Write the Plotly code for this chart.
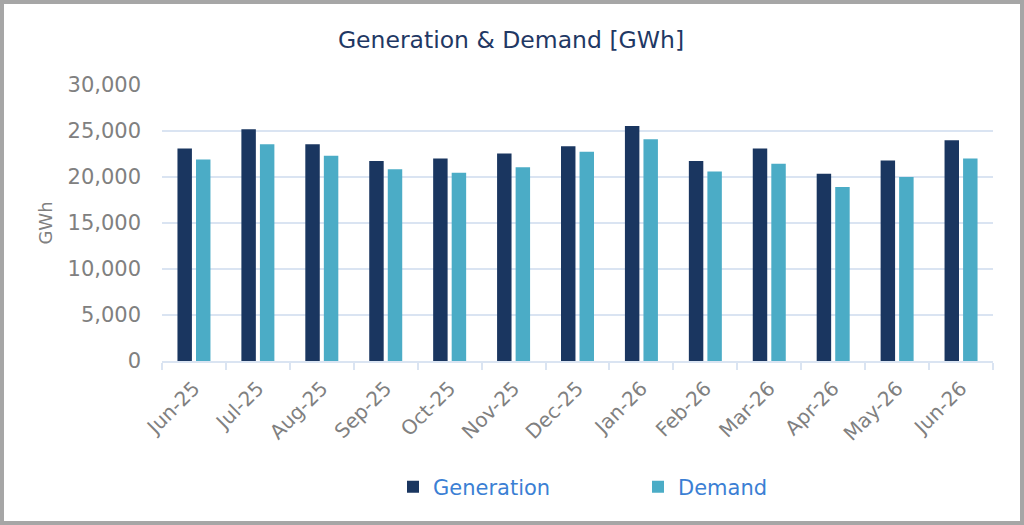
import plotly.graph_objects as go

months = ["Jun-25", "Jul-25", "Aug-25", "Sep-25", "Oct-25", "Nov-25", "Dec-25",
          "Jan-26", "Feb-26", "Mar-26", "Apr-26", "May-26", "Jun-26"]
generation = [23100, 25200, 23550, 21750, 22000, 22550, 23350,
              25550, 21750, 23100, 20350, 21800, 24000]
demand = [21900, 23550, 22300, 20850, 20450, 21050, 22750,
          24100, 20600, 21450, 18900, 20000, 22000]
y_ticks = [0, 5000, 10000, 15000, 20000, 25000, 30000]

FONT = "DejaVu Sans"
TICK_COLOR = "#808080"
GRID = "#dae4f2"

L, R, T, B = 162, 31, 85, 164
W, H = 1024, 525
pw, ph = W - L - R, H - T - B

def px_x(px):
    return (px - L) / pw

def px_y(py):
    return (H - B - py) / ph

fig = go.Figure()
fig.add_trace(go.Bar(x=months, y=generation, name="Generation",
                     marker=dict(color="#1a3660", line=dict(width=0))))
fig.add_trace(go.Bar(x=months, y=demand, name="Demand",
                     marker=dict(color="#4bacc6", line=dict(width=0))))

fig.update_layout(
    width=W, height=H,
    margin=dict(l=L, r=R, t=T, b=B, pad=0),
    paper_bgcolor="white", plot_bgcolor="white",
    barmode="group", bargap=0.42, bargroupgap=0.22,
    title=dict(text="Generation & Demand [GWh]", x=511 / W, xref="container",
               xanchor="center", y=1 - 40 / H, yanchor="middle",
               font=dict(family=FONT, size=23.5, color="#1f3864")),
    showlegend=True,
    legend=dict(orientation="h", x=px_x(393), xanchor="left",
                y=px_y(487), yanchor="middle",
                font=dict(family=FONT, size=21, color="#3b7fd4"),
                entrywidth=200, entrywidthmode="pixels",
                bgcolor="rgba(0,0,0,0)"),
    xaxis=dict(tickangle=-45, tickfont=dict(family=FONT, size=20, color=TICK_COLOR),
               showline=True, linecolor=GRID, linewidth=1.5,
               ticks="outside", tickson="boundaries", ticklen=7,
               tickcolor=GRID, tickwidth=1.5, showgrid=False,
               ticklabelstandoff=6),
    yaxis=dict(range=[0, 30000], tickvals=y_ticks, tickformat=",d",
               tickfont=dict(family=FONT, size=21, color=TICK_COLOR),
               showgrid=True, gridcolor=GRID, gridwidth=1.5,
               zeroline=False, showline=False, ticklabelstandoff=20,
               title=dict(text="GWh", standoff=10,
                          font=dict(family=FONT, size=18, color=TICK_COLOR))),
    shapes=[dict(type="rect", xref="paper", yref="paper",
                 x0=px_x(2), x1=px_x(W - 2), y0=px_y(H - 2), y1=px_y(2),
                 line=dict(color="#a6a6a6", width=4), fillcolor="rgba(0,0,0,0)",
                 layer="above")],
)

fig.write_html("out.html")
